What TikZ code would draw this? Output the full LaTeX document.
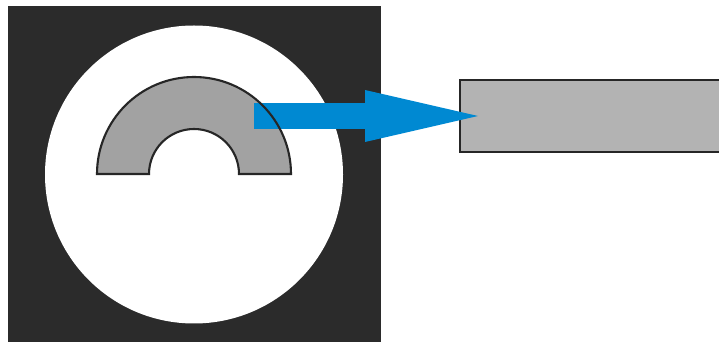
\documentclass[tikz,border=0pt]{standalone}
\usepackage{tikz}
\usetikzlibrary{arrows.meta,positioning,calc}
\definecolor{housing}{HTML}{2B2B2B}
\definecolor{ringgray}{HTML}{A2A2A2}
\definecolor{boxgray}{HTML}{B3B3B3}
\definecolor{outline}{HTML}{262626}
\definecolor{flowblue}{HTML}{0089D2}
\tikzset{
  ring/.style={fill=ringgray},
  ringline/.style={draw=outline, line width=2.1pt, line join=miter},
  outbox/.style={draw=outline, fill=boxgray, line width=2.4pt, inner sep=0pt, minimum width=400pt, minimum height=72pt},
  flow/.style={draw=flowblue, line width=26pt, -{Triangle[length=113pt, width=52pt, line width=0pt]}}
}

\begin{document}
\begin{tikzpicture}[x=1pt, y=1pt]
\useasboundingbox (0,0) rectangle (719,342);
\clip (0,0) rectangle (719,342);
\fill[housing] (8,-5) rectangle (381,336);
\fill[white] (194,167.5) circle[radius=149];

\coordinate (hub) at (194,168);
\path[ring] ($(hub)+(-97,0)$) arc[start angle=180, end angle=0, radius=97]
  -- ($(hub)+(45,0)$) arc[start angle=0, end angle=180, radius=45] -- cycle;

\node[outbox, anchor=north west] (target) at (459,263) {};

\coordinate (src) at (254,226);
\coordinate (tip) at ($(target.west |- src)+(19,0)$);
\draw[flow] (src) -- (tip);

\draw[ringline] ($(hub)+(-97,0)$) arc[start angle=180, end angle=0, radius=97]
  -- ($(hub)+(45,0)$) arc[start angle=0, end angle=180, radius=45] -- cycle;
\end{tikzpicture}
\end{document}
